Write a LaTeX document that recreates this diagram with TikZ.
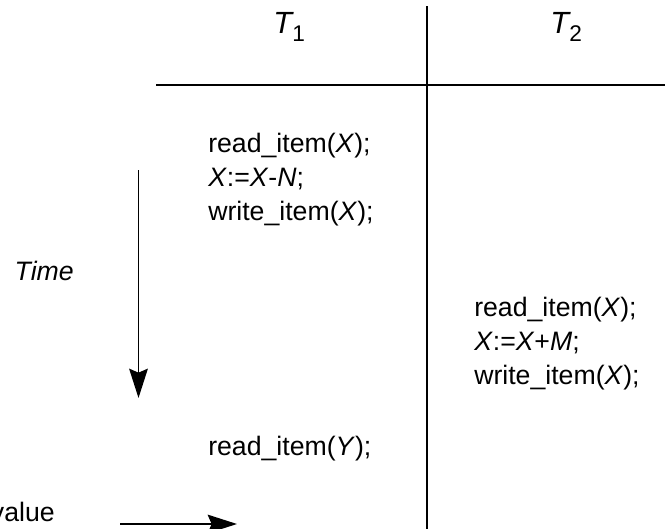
\documentclass[tikz,border=0pt]{standalone}
\usepackage{fontspec}
\setmainfont{Liberation Sans}
\usetikzlibrary{arrows.meta}
\begin{document}
\begin{tikzpicture}[x=0.75pt,y=-0.75pt,
  code/.style={anchor=base west,inner sep=0pt,font=\fontsize{20}{24}\selectfont},
  head/.style={anchor=base west,inner sep=0pt,font=\fontsize{23}{26}\selectfont},
  rule/.style={line width=1.3pt},
  timearrow/.style={line width=1.3pt,-{Stealth[length=22pt,width=14pt,inset=3pt]}}]
\useasboundingbox (0,0) rectangle (665,529);
% table rules
\coordinate (vtop) at (427,6);
\coordinate (vbot) at (427,529);
\coordinate (hl) at (156,85);
\coordinate (hr) at (665,85);
\draw[rule] (vtop) -- (vbot);
\draw[rule] (hl) -- (hr);
% headers
\node[head] (t1) at (273,33) {\textit{T}\kern-1pt\raisebox{-6pt}{\fontsize{17}{17}\selectfont 1}};
\node[head] (t2) at (550,33) {\textit{T}\kern-1pt\raisebox{-6pt}{\fontsize{17}{17}\selectfont 2}};
% T1 operations
\node[code] (a1) at (208,152) {read\_item(\textit{X});};
\node[code] (a2) at (208,186) {\textit{X}:=\textit{X}-\textit{N};};
\node[code] (a3) at (208,220) {write\_item(\textit{X});};
% T2 operations
\node[code] (b1) at (474,316) {read\_item(\textit{X});};
\node[code] (b2) at (474,350) {\textit{X}:=\textit{X}+\textit{M};};
\node[code] (b3) at (474,384) {write\_item(\textit{X});};
% T1 later
\node[code] (a4) at (208,455) {read\_item(\textit{Y});};
% time
\node[code,anchor=base east] (time) at (74,280) {\textit{Time}};
\coordinate (ts) at (138.5,170);
\coordinate (te) at (138.5,398);
\draw[timearrow] (ts) -- (te);
% value arrow
\node[code,anchor=base east] (val) at (55,521) {value};
\coordinate (vs) at (120,524);
\coordinate (ve) at (237,524);
\draw[timearrow] (vs) -- (ve);
\end{tikzpicture}
\end{document}
